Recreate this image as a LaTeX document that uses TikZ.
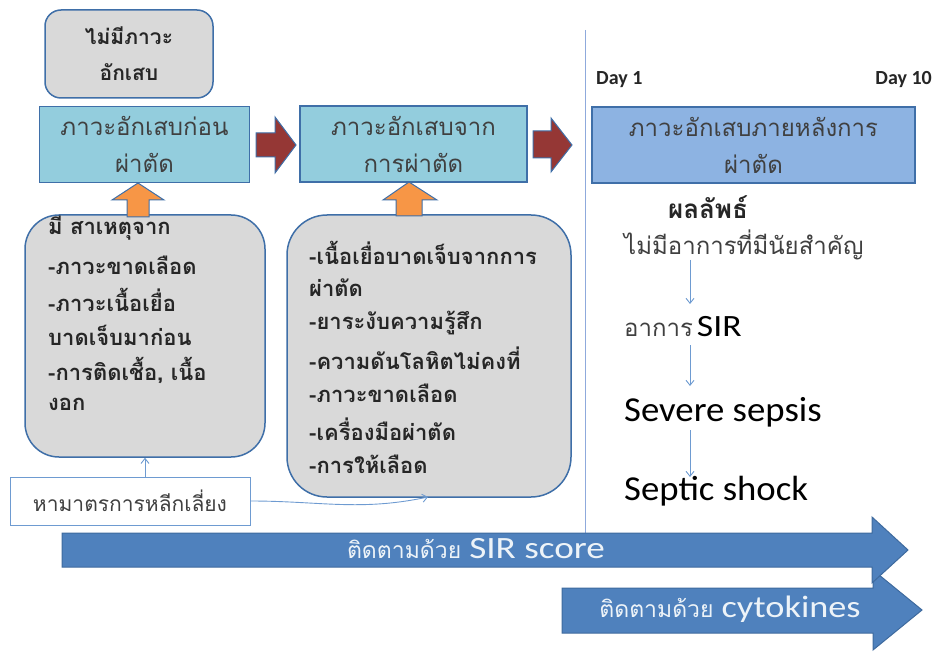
\documentclass[tikz,border=0pt]{standalone}
\usepackage{fontspec}
\setmainfont{Carlito}
\newfontfamily\thaif[Script=Thai]{Loma}
\usetikzlibrary{arrows.meta}
\newcommand{\widen}[2]{\scalebox{#1}[1]{#2}}
\definecolor{tealfill}{HTML}{93CDDD}
\definecolor{boxline}{HTML}{3F6FA8}
\definecolor{grayfill}{HTML}{D9D9D9}
\definecolor{bluefill}{HTML}{8DB3E2}
\definecolor{redfill}{HTML}{953735}
\definecolor{orangefill}{HTML}{F79646}
\definecolor{bigblue}{HTML}{4F81BD}
\definecolor{bigline}{HTML}{3E6A9E}
\definecolor{thinblue}{HTML}{6E9BD1}
\definecolor{vline}{HTML}{8FAADC}
\definecolor{softtext}{HTML}{404040}
\begin{document}
\begin{tikzpicture}[x=1pt,y=-1pt,
  tealbox/.style={draw=boxline, line width=1.5pt, fill=tealfill, align=center, text=softtext, inner sep=0pt,
    font=\thaif\fontsize{24}{37}\selectfont},
  bluebox/.style={draw=boxline, line width=1.5pt, fill=bluefill, align=center, text=softtext, inner sep=0pt,
    font=\thaif\fontsize{24}{37}\selectfont},
  graybox/.style={draw=boxline, line width=1.5pt, fill=grayfill, rounded corners=#1, inner sep=0pt},
  graybox/.default=30pt,
  blockred/.style={draw=boxline, line width=1pt, fill=redfill},
  blockorange/.style={draw=boxline, line width=1pt, fill=orangefill},
  blockbig/.style={draw=bigline, line width=1pt, fill=bigblue},
  thinarrow/.style={draw=thinblue, line width=0.9pt, -{Straight Barb[length=5pt,width=8pt]}},
  listtext/.style={anchor=west, inner sep=0pt, text=black!85, font=\thaif\bfseries\fontsize{22}{24}\selectfont},
  righttext/.style={anchor=west, inner sep=0pt, text=black}
]
\useasboundingbox (0,0) rectangle (935,655);

% top gray box
\node[graybox=16pt, minimum width=168pt, minimum height=88pt, align=center, text=black!85,
  font=\thaif\bfseries\fontsize{21}{36}\selectfont] (none) at (129,54)
  {ไม่มีภาวะ\\อักเสบ};

% teal boxes
\node[tealbox, minimum width=210pt, minimum height=76pt] (pre) at (144.5,144.5)
  {ภาวะอักเสบก่อน\\ผ่าตัด};
\node[tealbox, minimum width=227pt, minimum height=76pt] (intra) at (413.5,144)
  {ภาวะอักเสบจาก\\การผ่าตัด};

% red block arrows
\draw[blockred] (256,133) -- (275,133) -- (275,117) -- (296,145) -- (275,173) -- (275,157) -- (256,157) -- cycle;
\draw[blockred] (533,131) -- (551,131) -- (551,118) -- (572,145) -- (551,172) -- (551,158) -- (533,158) -- cycle;

% vertical divider
\draw[vline, line width=0.8pt] (585,30) -- (585,533);

% left cause box
\node[graybox=34pt, minimum width=240pt, minimum height=242pt] (causeA) at (145,336) {};
\node[listtext] (a1) at (48,228) {มี สาเหตุจาก};
\node[listtext] (a2) at (48,265) {-ภาวะขาดเลือด};
\node[listtext] (a3) at (48,300) {-ภาวะเนื้อเยื่อ};
\node[listtext] (a4) at (48,335) {บาดเจ็บมาก่อน};
\node[listtext] (a5) at (48,370) {-การติดเชื้อ, เนื้อ};
\node[listtext] (a6) at (48,404) {งอก};

% middle cause box
\node[graybox=40pt, minimum width=284pt, minimum height=282pt] (causeB) at (429,356) {};
\node[listtext] (b1) at (309,253) {-เนื้อเยื่อบาดเจ็บจากการ};
\node[listtext] (b2) at (309,288) {ผ่าตัด};
\node[listtext] (b3) at (309,323) {-ยาระงับความรู้สึก};
\node[listtext] (b4) at (309,358) {-ความดันโลหิตไม่คงที่};
\node[listtext] (b5) at (309,393) {-ภาวะขาดเลือด};
\node[listtext] (b6) at (309,429) {-เครื่องมือผ่าตัด};
\node[listtext] (b7) at (309,464) {-การให้เลือด};

% orange up arrows
\draw[blockorange] (127,217) -- (127,200) -- (112,200) -- (138,183) -- (164,200) -- (149,200) -- (149,217) -- cycle;
\draw[blockorange] (396,216) -- (396,200) -- (383,200) -- (409,182) -- (437,200) -- (422,200) -- (422,216) -- cycle;

% avoidance box
\node[draw=thinblue, line width=0.8pt, fill=white, minimum width=240pt, minimum height=48pt, inner sep=0pt,
  text=softtext, font=\thaif\fontsize{21}{24}\selectfont] (avoid) at (130,501)
  {หามาตรการหลีกเลี่ยง};
\draw[thinarrow] (avoid.north -| causeA.south) -- (causeA.south);
\coordinate (midend) at (428,497);
\draw[thinarrow] (avoid.east) to[out=0, in=192] (midend);

% right column
\node[anchor=west, inner sep=0pt, text=black!85, font=\bfseries\fontsize{20}{22}\selectfont] (day1) at (596,80) {Day 1};
\node[anchor=east, inner sep=0pt, text=black!85, font=\bfseries\fontsize{20}{22}\selectfont] (day10) at (932,80) {Day 10};
\node[bluebox, minimum width=323pt, minimum height=76pt] (post) at (753.5,145)
  {ภาวะอักเสบภายหลังการ\\ผ่าตัด};
\node[inner sep=0pt, text=black!85, font=\thaif\bfseries\fontsize{26}{28}\selectfont] (result) at (708,207) {ผลลัพธ์};
\node[righttext, text=softtext, font=\thaif\fontsize{24}{26}\selectfont] (o1) at (624,245) {ไม่มีอาการที่มีนัยสำคัญ};
\node[righttext] (o2) at (624,327) {{\thaif\color{softtext}\fontsize{24}{26}\selectfont อาการ}\hspace{4pt}{\fontsize{31}{33}\selectfont\widen{1.15}{SIR}}};
\node[righttext, font=\fontsize{35}{38}\selectfont] (o3) at (624,412) {\widen{1.05}{Severe sepsis}};
\node[righttext, font=\fontsize{35}{38}\selectfont] (o4) at (624,491) {\widen{1.05}{Septic shock}};
\draw[thinarrow] (690,260) -- (690,304);
\draw[thinarrow] (690,345) -- (690,386);
\draw[thinarrow] (690,430) -- (690,477);

% big arrows
\draw[blockbig] (562,588) -- (873,588) -- (873,570) -- (922,610) -- (873,650) -- (873,633) -- (562,633) -- cycle;
\draw[blockbig] (62,533) -- (872,533) -- (872,517) -- (908,550) -- (872,583) -- (872,567) -- (62,567) -- cycle;
\node[text=white!90!bigblue, inner sep=0pt] (sirscore) at (476,549)
  {{\thaif\fontsize{23}{26}\selectfont ติดตามด้วย}\hspace{8pt}{\fontsize{31}{34}\selectfont\widen{1.2}{SIR score}}};
\node[text=white!90!bigblue, inner sep=0pt] (cyto) at (730,609)
  {{\thaif\fontsize{23}{26}\selectfont ติดตามด้วย}\hspace{8pt}{\fontsize{31}{34}\selectfont\widen{1.17}{cytokines}}};
\end{tikzpicture}
\end{document}
